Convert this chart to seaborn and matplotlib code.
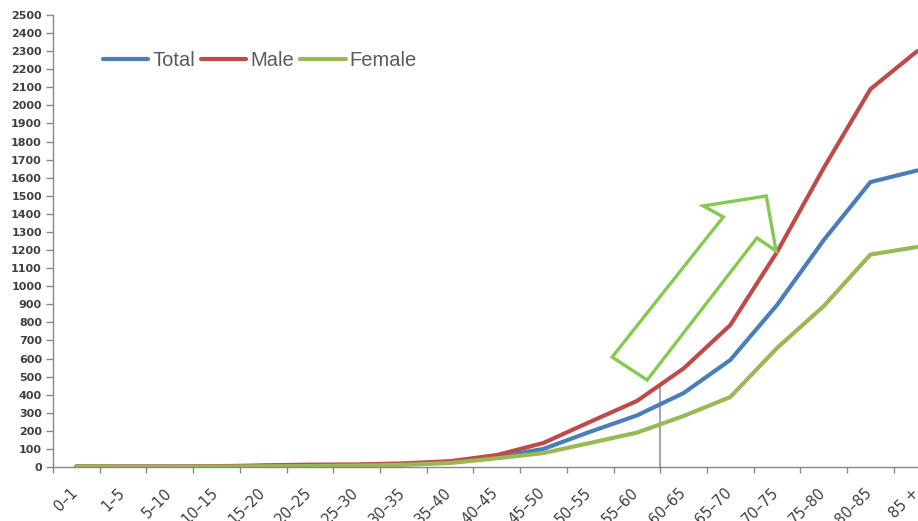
import matplotlib
matplotlib.use("Agg")
import matplotlib.pyplot as plt
from matplotlib.patches import Polygon
from matplotlib.transforms import ScaledTranslation
import numpy as np
import pandas as pd
import seaborn as sns

# Age groups and rates per group
categories = ["0–1", "1–5", "5–10", "10–15", "15–20", "20–25", "25–30", "30–35",
              "35–40", "40–45", "45–50", "50–55", "55–60", "60–65", "65–70",
              "70–75", "75–80", "80–85", "85 +"]
total = [3, 2, 2, 3, 6, 9, 11, 16, 26, 55, 100, 195, 285, 409, 592, 896, 1255, 1576, 1640]
male = [4, 3, 3, 4, 9, 13, 14, 20, 32, 66, 133, 250, 365, 545, 785, 1189, 1654, 2090, 2300]
female = [3, 2, 2, 2, 4, 5, 8, 12, 22, 48, 77, 133, 190, 282, 387, 658, 890, 1175, 1217]
series_names = ["Total", "Male", "Female"]
y_ticks = list(range(0, 2501, 100))

colors = ["#4A7EBB", "#BE4B48", "#98B954"]

pos = np.arange(len(categories))
df = pd.DataFrame({
    "pos": np.tile(pos, 3),
    "value": total + male + female,
    "series": np.repeat(series_names, len(categories)),
})

sns.set_style("white")
plt.rcParams["font.family"] = ["DejaVu Sans"]

fig = plt.figure(figsize=(9.18, 5.21), dpi=100)
ax = fig.add_axes([53 / 918, 54 / 521, 887.5 / 918, 452 / 521])

sns.lineplot(data=df, x="pos", y="value", hue="series", hue_order=series_names,
             palette=colors, linewidth=3.0, sort=False, ax=ax,
             solid_capstyle="round", legend=False)

ax.set_xlim(-0.5, len(categories) - 0.5)
ax.set_ylim(0, 2500)

# drop line at the 55–60 / 60–65 boundary
ax.vlines(12.5, 0, 450, color="#A6A6A6", linewidth=1.5, zorder=1)

# hollow block arrow marking the rise
arrow_outline = [(11.47, 608), (13.85, 1383), (13.42, 1444), (14.77, 1499),
                 (14.98, 1195), (14.57, 1267), (12.22, 481)]
ax.add_patch(Polygon(arrow_outline, closed=True, fill=False,
                     edgecolor="#85C94E", linewidth=2.4, joinstyle="miter", zorder=4))

# axes styling
for side in ["top", "right"]:
    ax.spines[side].set_visible(False)
for side in ["left", "bottom"]:
    ax.spines[side].set_color("#868686")
    ax.spines[side].set_linewidth(1.0)

ax.set_yticks(y_ticks)
ax.set_yticklabels([str(v) for v in y_ticks], fontsize=8, fontweight="bold",
                   color="#404040")
ax.tick_params(axis="y", direction="out", length=5, width=1, color="#868686",
               pad=3, left=True)

ax.set_xticks(pos)
ax.set_xticklabels(categories, rotation=45, ha="right", va="top",
                   rotation_mode="anchor", fontsize=10.5, color="#404040")
ax.tick_params(axis="x", which="major", length=0, pad=6)
shift = ScaledTranslation(-6 / 100, -10 / 100, fig.dpi_scale_trans)
for lbl in ax.get_xticklabels():
    lbl.set_transform(lbl.get_transform() + shift)
ax.set_xticks(np.arange(len(categories) + 1) - 0.5, minor=True)
ax.tick_params(axis="x", which="minor", direction="out", length=4, width=1,
               color="#868686", bottom=True)

ax.set_xlabel("")
ax.set_ylabel("")
ax.grid(False)

handles = [plt.Line2D([], [], color=c, linewidth=3.0, solid_capstyle="round")
           for c in colors]
leg = fig.legend(handles, series_names, loc="center left",
                 bbox_to_anchor=(103 / 918, 1 - 61 / 521), ncol=3, frameon=False,
                 prop={"family": "Liberation Sans", "size": 14.5},
                 handlelength=2.25, handletextpad=0.2, columnspacing=0.3,
                 borderpad=0, borderaxespad=0)
for t in leg.get_texts():
    t.set_color("#595959")

fig.savefig("out.png", dpi=100, facecolor="white")
